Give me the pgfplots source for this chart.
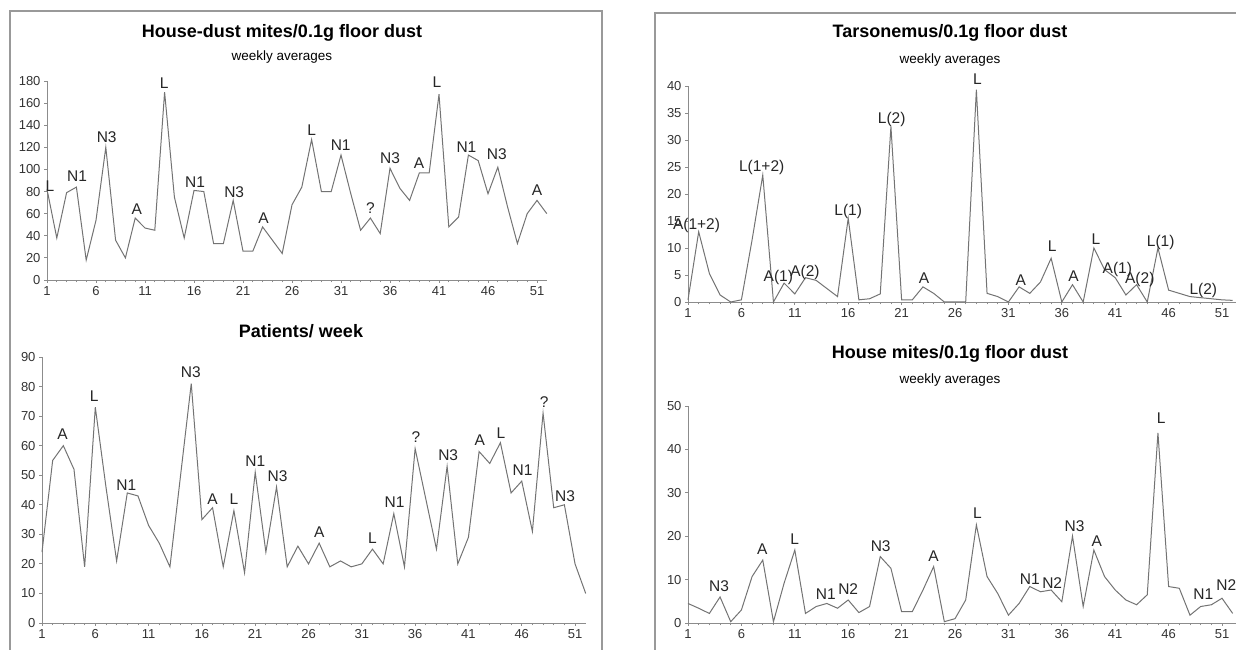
\documentclass[border=0pt]{standalone}
\usepackage{pgfplots}
\pgfplotsset{compat=1.18}
\usepackage{fontspec}
\setmainfont{Liberation Sans}

\pgfplotsset{
  panel/.style={
    scale only axis, anchor=south west, clip=false,
    axis lines=left, axis line style={-, draw=black!45, line width=0.9pt},
    xmin=1, xtick={1,6,...,51}, minor x tick num=4, ymin=0,
    tick align=outside, major tick length=3pt, minor tick length=2.5pt,
    every tick/.style={draw=black!45, line width=0.8pt},
    ticklabel style={font=\fontsize{13}{13}\selectfont, text=black!80},
    /pgf/number format/assume math mode=true,
  },
  series/.style={draw=black!55, line width=1pt, mark=none},
  labs/.style={draw=none, mark=none, nodes near coords={\pgfplotspointmeta},
    point meta=explicit symbolic,
    nodes near coords style={anchor=base, inner sep=0pt,
      font=\fontsize{15.5}{16}\selectfont, text=black!85}},
}

\begin{document}
\begin{tikzpicture}
\useasboundingbox (0pt,0pt) rectangle (1236pt,650pt);
% frames
\draw[black!40, line width=1.5pt] (10pt,-5pt) -- (10pt,639pt) -- (602pt,639pt) -- (602pt,-5pt);
\draw[black!40, line width=1.5pt] (655pt,-5pt) -- (655pt,637pt) -- (1245pt,637pt);

% titles
\node[font=\fontsize{18}{18}\selectfont\bfseries] at (282pt,617pt) {House-dust mites/0.1g floor dust};
\node[font=\fontsize{13.5}{14}\selectfont] at (282pt,593pt) {weekly averages};
\node[font=\fontsize{18}{18}\selectfont\bfseries] at (301pt,319pt) {Patients/ week};
\node[font=\fontsize{18}{18}\selectfont\bfseries] at (950pt,617pt) {Tarsonemus/0.1g floor dust};
\node[font=\fontsize{13.5}{14}\selectfont] at (950pt,590pt) {weekly averages};
\node[font=\fontsize{18}{18}\selectfont\bfseries] at (950pt,296pt) {House mites/0.1g floor dust};
\node[font=\fontsize{13.5}{14}\selectfont] at (950pt,270pt) {weekly averages};

% House-dust mites
\begin{axis}[panel, at={(47pt,370pt)}, width=499.8pt, height=199pt,
  xmax=52, ymax=180, ytick={0,20,...,180}]
\addplot[series] table {
x y
1 82
2 38
3 79
4 84
5 18
6 54
7 120
8 36
9 20
10 56
11 47
12 45
13 170
14 75
15 38
16 81
17 80
18 33
19 33
20 72
21 26
22 26
23 48
24 36
25 24
26 68
27 84
28 127
29 80
30 80
31 113
32 78
33 45
34 56
35 42
36 101
37 83
38 72
39 97
40 97
41 168
42 48
43 57
44 113
45 108
46 78
47 102
48 66
49 33
50 60
51 72
52 60
};
\addplot[labs] table[meta=lab] {
x y lab
1.3 80 L
4.06 89 N1
7.09 124 N3
10.15 59 A
12.97 173 L
16.1 84 N1
20.1 75 N3
23.1 51 A
28.0 131 L
30.97 117 N1
34 60 ?
36 105 N3
38.96 101 A
40.8 174 L
43.8 115 N1
46.9 109 N3
51 76 A
};
\end{axis}

% Patients
\begin{axis}[panel, at={(42pt,27pt)}, width=543.7pt, height=266pt,
  xmax=52, ymax=90, ytick={0,10,...,90}]
\addplot[series] table {
x y
1 24
2 55
3 60
4 52
5 19
6 73
7 46
8 21
9 44
10 43
11 33
12 27
13 19
14 50
15 81
16 35
17 39
18 19
19 38
20 17
21 51
22 24
23 46
24 19
25 26
26 20
27 27
28 19
29 21
30 19
31 20
32 25
33 20
34 37
35 19
36 59
37 42
38 25
39 53
40 20
41 29
42 58
43 54
44 61
45 44
46 48
47 31
48 71
49 39
50 40
51 20
52 10
};
\addplot[labs] table[meta=lab] {
x y lab
2.92 62 A
5.9 75 L
8.9 45 N1
14.96 83 N3
17.0 40 A
19.0 40 L
21 53 N1
23.1 48 N3
27 29 A
32 27 L
34.07 39 N1
36.07 61 ?
39.1 55 N3
42.06 60 A
44.04 62.5 L
46.07 50 N1
48.1 73 ?
50.06 41 N3
};
\end{axis}

% Tarsonemus
\begin{axis}[panel, at={(688pt,348pt)}, width=547.9pt, height=216pt,
  xmax=52.3, ymax=40, ytick={0,5,...,40}]
\addplot[series] table {
x y
1 0.4
2 13
3 5.3
4 1.3
5 0
6 0.4
7 11.5
8 23.5
9 0
10 3.5
11 1.5
12 4.5
13 4
14 2.5
15 1
16 15.5
17 0.4
18 0.6
19 1.5
20 32.5
21 0.4
22 0.4
23 2.8
24 1.6
25 0
26 0
27 0
28 39.3
29 1.6
30 1
31 0
32 2.8
33 1.6
34 3.7
35 8.1
36 0
37 3.2
38 0
39 10
40 6
41 4.5
42 1.3
43 3.2
44 0
45 10
46 2.2
47 1.6
48 1
49 0.8
50 0.6
51 0.4
52 0.3
};
\addplot[labs] table[meta=lab] {
x y lab
1.8 13.5 A(1+2)
7.9 24.1 L(1+2)
9.46 3.8 A(1)
11.95 4.7 A(2)
16.0 16.1 L(1)
20.07 33.1 L(2)
23.1 3.5 A
28.1 40.2 L
32.15 3.1 A
35.1 9.3 L
37.1 3.8 A
39.2 10.6 L
41.2 5.3 A(1)
43.3 3.5 A(2)
45.26 10.2 L(1)
49.25 1.3 L(2)
};
\end{axis}

% House mites
\begin{axis}[panel, at={(688pt,27pt)}, width=547.9pt, height=217pt,
  xmax=52.3, ymax=50, ytick={0,10,...,50}]
\addplot[series] table {
x y
1 4.5
2 3.4
3 2.2
4 6
5 0.3
6 3
7 10.7
8 14.5
9 0.3
10 9.2
11 16.8
12 2.2
13 3.8
14 4.5
15 3.4
16 5.3
17 2.4
18 3.8
19 15.3
20 12.6
21 2.6
22 2.6
23 7.6
24 13
25 0.3
26 1
27 5.3
28 22.6
29 10.7
30 6.8
31 1.8
32 4.5
33 8.4
34 7.2
35 7.6
36 4.9
37 20
38 3.8
39 16.8
40 10.7
41 7.6
42 5.3
43 4.2
44 6.5
45 43.8
46 8.4
47 8
48 1.8
49 3.8
50 4.2
51 5.7
52 2.2
};
\addplot[labs] table[meta=lab] {
x y lab
3.9 7.2 N3
7.96 15.7 A
10.99 18.2 L
13.9 5.3 N1
16.0 6.5 N2
19.04 16.4 N3
24.0 14.1 A
28.1 24.1 L
33.0 8.8 N1
35.1 8 N2
37.2 21 N3
39.27 17.6 A
45.3 46 L
49.25 5.3 N1
51.4 7.6 N2
};
\end{axis}
\end{tikzpicture}
\end{document}
